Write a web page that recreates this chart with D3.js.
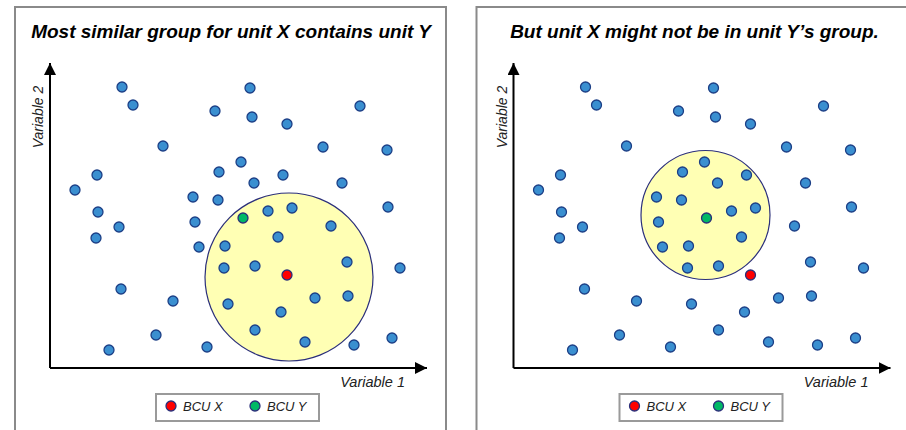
<!DOCTYPE html>
<html>
<head>
<meta charset="utf-8">
<script src="https://cdn.jsdelivr.net/npm/d3@7"></script>
<style>
  body { margin: 0; background: #fff; }
  svg { display: block; font-family: "Liberation Sans", Arial, sans-serif; }
</style>
</head>
<body>
<script>
const width = 906;
const height = 430;

// unit positions (same cloud in both panels)
const var1 = [72, 83, 200, 165, 202, 237, 310, 113, 273, 337, 191, 47, 169, 204, 233, 292, 25, 143, 168, 338,
              242, 218, 48, 69, 145, 281, 46, 228, 149, 175, 174, 205, 297, 350, 71, 123, 178, 265, 298, 231,
              106, 205, 59, 157, 255, 304, 342];
const var2 = [281, 263, 280, 257, 251, 244, 262, 222, 221, 218, 206, 193, 196, 185, 193, 185, 178, 171, 168, 161,
              160, 157, 156, 141, 146, 142, 130, 131, 121, 122, 100, 102, 106, 100, 79, 67, 64, 70, 72, 56,
              33, 38, 18, 21, 26, 23, 30];

const unitX = [237, 93];
const unitY = [193, 150];

const titles = ['Most similar group for unit X contains unit Y', 'But unit X might not be in unit Y\u2019s group.'];
const groupCx = [239, 192];
const groupCy = [91, 153];
const groupR = [84, 64.5];
const panelShift = [0, 463.5];
const frameX = [15, 13];

const legendLabels = ['BCU X', 'BCU Y'];
const legendColors = ['#ff0000', '#00b866'];

const xScale = d3.scaleLinear().domain([0, 380]).range([50, 430]);
const yScale = d3.scaleLinear().domain([0, 305]).range([368, 63]);

const points = var1.map((v, i) => ({x: v, y: var2[i]}));

const svg = d3.select('body')
    .append('svg')
    .attr('width', width)
    .attr('height', height);

const defs = svg.append('defs');
defs.append('marker')
    .attr('id', 'arrow')
    .attr('viewBox', '0 0 10 10')
    .attr('refX', 10)
    .attr('refY', 5)
    .attr('markerUnits', 'userSpaceOnUse')
    .attr('markerWidth', 12)
    .attr('markerHeight', 12)
    .attr('orient', 'auto')
    .append('path')
    .attr('d', 'M0,0L10,5L0,10z')
    .attr('fill', '#000');

titles.forEach((title, p) => {
    const g = svg.append('g').attr('transform', `translate(${panelShift[p]}, 0)`);

    // frame
    g.append('rect')
        .attr('x', frameX[p])
        .attr('y', 7)
        .attr('width', 431)
        .attr('height', 440)
        .attr('fill', 'none')
        .attr('stroke', '#8a8a8a')
        .attr('stroke-width', 2);

    g.append('text')
        .attr('x', 231)
        .attr('y', 38)
        .attr('text-anchor', 'middle')
        .style('font-size', '19px')
        .style('font-weight', 'bold')
        .style('font-style', 'italic')
        .attr('fill', '#000')
        .text(title);

    // group circle
    g.append('circle')
        .attr('cx', xScale(groupCx[p]))
        .attr('cy', yScale(groupCy[p]))
        .attr('r', xScale(groupR[p]) - xScale(0))
        .attr('fill', '#ffffb4')
        .attr('stroke', '#2b2f7a')
        .attr('stroke-width', 1.2);

    // axes
    g.append('path')
        .attr('d', d3.line()([[xScale(0), yScale(0)], [xScale(0), yScale(305)]]))
        .attr('stroke', '#000')
        .attr('stroke-width', 2)
        .attr('marker-end', 'url(#arrow)');
    g.append('path')
        .attr('d', d3.line()([[xScale(0), yScale(0)], [xScale(377), yScale(0)]]))
        .attr('stroke', '#000')
        .attr('stroke-width', 2)
        .attr('marker-end', 'url(#arrow)');

    g.append('text')
        .attr('x', 405)
        .attr('y', 387)
        .attr('text-anchor', 'end')
        .style('font-size', '14.5px')
        .style('font-style', 'italic')
        .attr('fill', '#222')
        .text('Variable 1');
    g.append('text')
        .attr('transform', 'translate(43, 117) rotate(-90)')
        .attr('text-anchor', 'middle')
        .style('font-size', '14px')
        .style('font-style', 'italic')
        .attr('fill', '#222')
        .text('Variable 2');

    g.selectAll('.dot')
        .data(points)
        .enter()
        .append('circle')
        .attr('class', 'dot')
        .attr('cx', d => xScale(d.x))
        .attr('cy', d => yScale(d.y))
        .attr('r', 5)
        .attr('fill', '#3a8fd0')
        .attr('stroke', '#1c3f86')
        .attr('stroke-width', 1.3);

    [unitX, unitY].forEach((u, i) => {
        g.append('circle')
            .attr('cx', xScale(u[0]))
            .attr('cy', yScale(u[1]))
            .attr('r', 5)
            .attr('fill', legendColors[i])
            .attr('stroke', '#2b2f7a')
            .attr('stroke-width', 1.3);
    });

    // legend
    const lg = g.append('g').attr('transform', 'translate(156, 394)');
    lg.append('rect')
        .attr('width', 163)
        .attr('height', 27)
        .attr('fill', '#fff')
        .attr('stroke', '#9a9a9a')
        .attr('stroke-width', 2);
    legendLabels.forEach((lab, i) => {
        const item = lg.append('g').attr('transform', `translate(${15 + i * 84}, 12)`);
        item.append('circle')
            .attr('r', 5)
            .attr('fill', legendColors[i])
            .attr('stroke', '#2b2f7a')
            .attr('stroke-width', 1.3);
        item.append('text')
            .attr('x', 12)
            .attr('y', 4.5)
            .style('font-size', '13px')
            .style('font-style', 'italic')
            .attr('fill', '#222')
            .text(lab);
    });
});
</script>
</body>
</html>
